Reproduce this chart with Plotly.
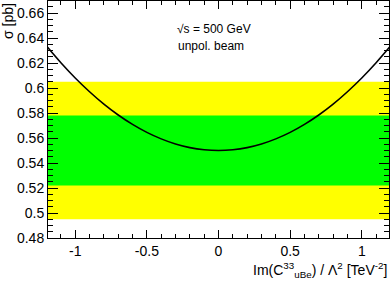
import plotly.graph_objects as go

# data
x_vals = [-1.2, -1.1, -1.0, -0.9, -0.8, -0.7, -0.6, -0.5, -0.4, -0.3, -0.2, -0.1, 0.0,
          0.1, 0.2, 0.3, 0.4, 0.5, 0.6, 0.7, 0.8, 0.9, 1.0, 1.1, 1.2]
sigma = [0.6335, 0.6202, 0.6080, 0.5970, 0.5871, 0.5784, 0.5709, 0.5645, 0.5593, 0.5552,
         0.5523, 0.5506, 0.5500, 0.5506, 0.5523, 0.5552, 0.5593, 0.5645, 0.5709, 0.5784,
         0.5871, 0.5970, 0.6080, 0.6202, 0.6335]
yellow_band = [0.495, 0.605]
green_band = [0.522, 0.578]
x_ticks = [-1, -0.5, 0, 0.5, 1]
x_ticklabels = ["-1", "-0.5", "0", "0.5", "1"]
y_ticks = [0.48, 0.5, 0.52, 0.54, 0.56, 0.58, 0.6, 0.62, 0.64, 0.66]
y_ticklabels = ["0.48", "0.5", "0.52", "0.54", "0.56", "0.58", "0.6", "0.62", "0.64", "0.66"]

FONT = "Liberation Sans, Arial, Helvetica, sans-serif"

fig = go.Figure()
fig.add_trace(go.Scatter(x=x_vals, y=sigma, mode="lines",
                         line=dict(color="black", width=1.6, shape="spline"),
                         showlegend=False, hoverinfo="skip"))

fig.add_shape(type="rect", xref="paper", yref="y", x0=0, x1=1,
              y0=yellow_band[0], y1=yellow_band[1], fillcolor="#ffff00",
              line=dict(width=0), layer="below")
fig.add_shape(type="rect", xref="paper", yref="y", x0=0, x1=1,
              y0=green_band[0], y1=green_band[1], fillcolor="#00ff00",
              line=dict(width=0), layer="below")

axis_common = dict(showgrid=False, zeroline=False, showline=True, linecolor="black",
                   linewidth=1, mirror="ticks", ticks="inside", tickcolor="black",
                   tickfont=dict(family=FONT, size=14, color="black"))

fig.update_xaxes(range=[-1.19, 1.19], tickvals=x_ticks, ticktext=x_ticklabels,
                 ticklen=8, tickwidth=1,
                 minor=dict(dtick=0.1, ticklen=4, ticks="inside", tickcolor="black"),
                 **axis_common)
fig.update_yaxes(range=[0.48, 0.6696], tickvals=y_ticks, ticktext=y_ticklabels,
                 ticklen=10, tickwidth=1,
                 minor=dict(dtick=0.005, ticklen=5, ticks="inside", tickcolor="black"),
                 **axis_common)

fig.add_annotation(text="√s = 500 GeV", xref="x", yref="y", x=-0.03, y=0.6476,
                   showarrow=False, font=dict(family=FONT, size=12, color="black"))
fig.add_annotation(text="unpol. beam", xref="x", yref="y", x=-0.05, y=0.6338,
                   showarrow=False, font=dict(family=FONT, size=12, color="black"))
fig.add_annotation(text="Im(C<sup>33</sup><sub>uBe</sub>) / Λ<sup>2</sup> [TeV<sup>-2</sup>]",
                   xref="paper", yref="paper", x=1, y=0, xanchor="right", yanchor="top",
                   yshift=-20, showarrow=False,
                   font=dict(family=FONT, size=14, color="black"))
fig.add_annotation(text="σ [pb]", xref="paper", yref="paper", x=0, y=1,
                   xanchor="center", yanchor="top", xshift=-40, textangle=-90,
                   showarrow=False, font=dict(family=FONT, size=14, color="black"))

fig.update_layout(width=390, height=284, margin=dict(l=48, r=1, t=1, b=46),
                  paper_bgcolor="white", plot_bgcolor="white")

fig.write_html("out.html", config={"displayModeBar": False},
               post_script="document.body.style.margin='0';document.body.style.overflow='hidden';")
